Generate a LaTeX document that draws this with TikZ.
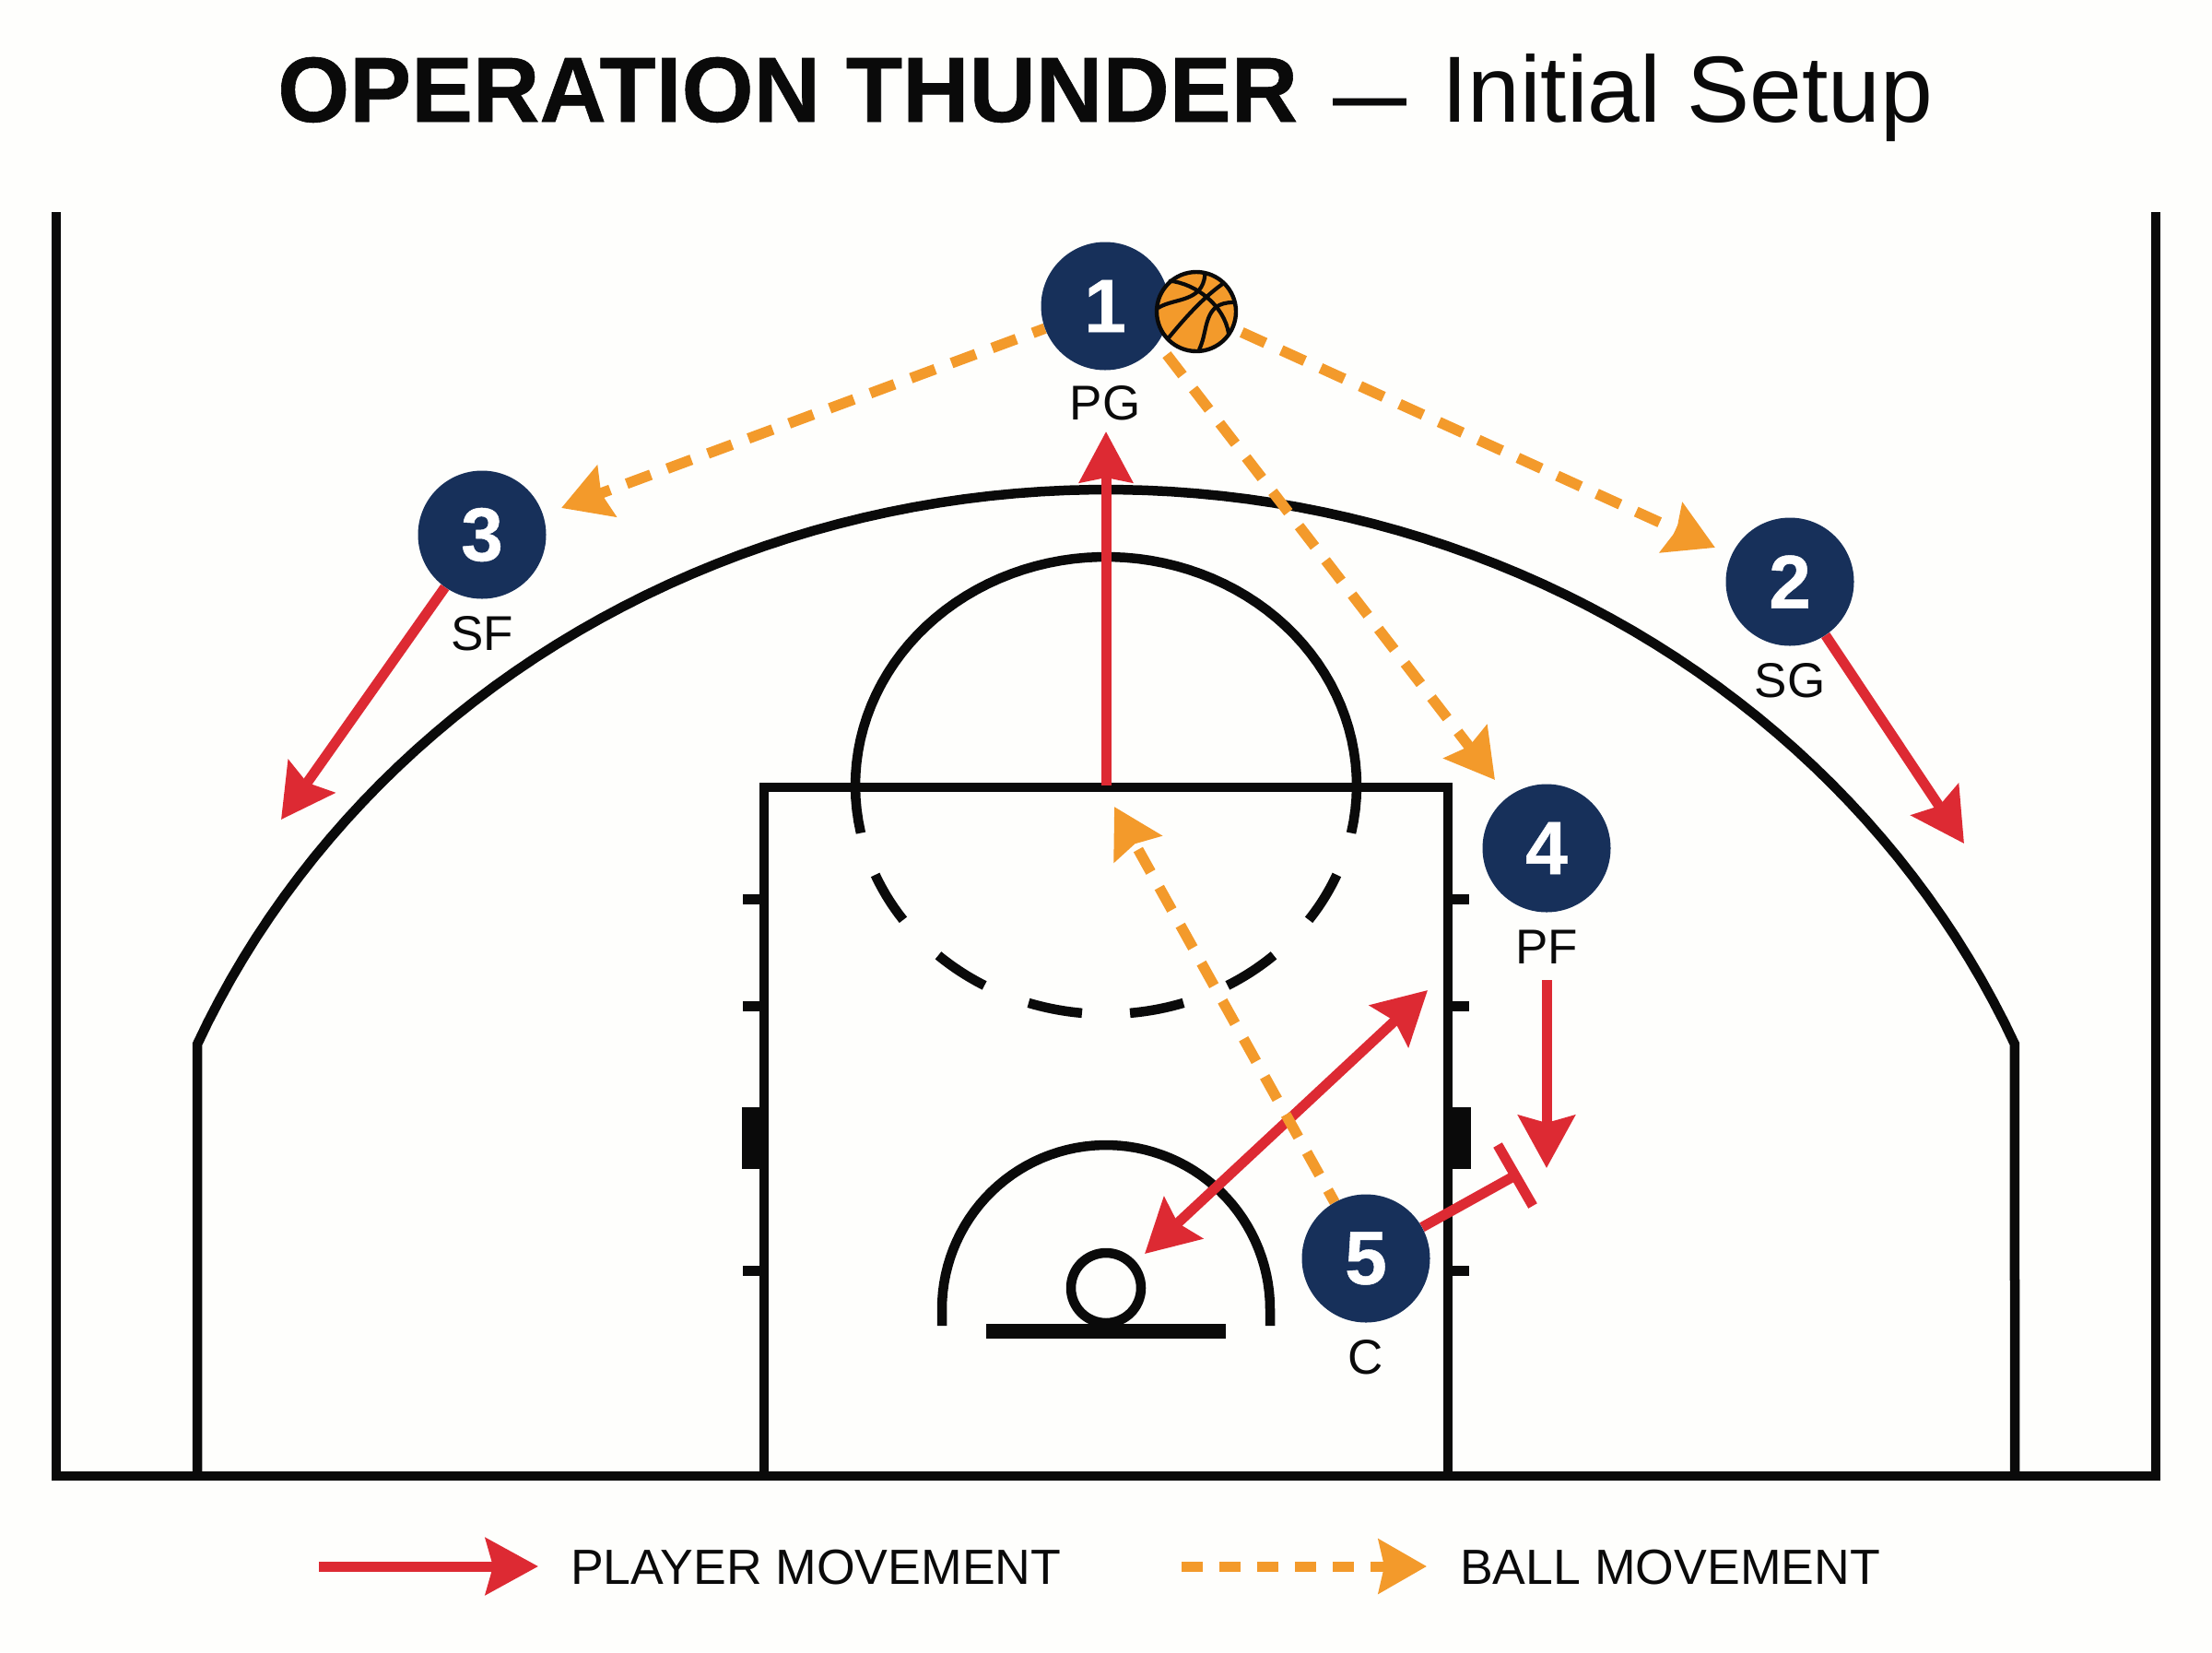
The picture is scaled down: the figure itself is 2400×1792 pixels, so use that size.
\documentclass[tikz,border=0pt]{standalone}
\usepackage{fontspec}
\setmainfont{Liberation Sans}
\newfontface\heavyface{Liberation Sans Bold}[FakeBold=0.6]
\usetikzlibrary{arrows.meta}
\definecolor{bgc}{HTML}{FEFEFC}
\definecolor{navy}{HTML}{17305A}
\definecolor{redc}{HTML}{DD2A33}
\definecolor{orac}{HTML}{F39A2B}
\definecolor{inkc}{HTML}{0A0A0A}
\newcommand{\fs}[1]{\fontsize{#1}{#1}\selectfont}
\pgfdeclarelayer{base}
\pgfdeclarelayer{links}
\pgfsetlayers{base,links,main}
\tikzset{
  court/.style={draw=inkc,line width=10.5pt,line join=miter},
  player/.style={circle,fill=navy,text=white,inner sep=0pt,minimum size=139pt,font=\fs{82}\heavyface},
  role/.style={text=inkc,inner sep=0pt,font=\fs{53}},
  legendtext/.style={text=inkc,inner sep=0pt,anchor=west,font=\fs{53.6}},
  redline/.style={draw=redc,line width=11pt},
  redmove/.style={redline,-{Stealth[length=57pt,width=61pt,inset=8pt]}},
  redboth/.style={redline,{Stealth[length=57pt,width=61pt,inset=8pt]}-{Stealth[length=57pt,width=61pt,inset=8pt]}},
  oramove/.style={draw=orac,line width=11.5pt,dash pattern=on 28pt off 19pt,-{Stealth[length=52pt,width=58pt,inset=6pt]}},
  seam/.style={draw=inkc,line width=4.2pt,line cap=round},
}
\begin{document}
\begin{tikzpicture}[x=1pt,y=-1pt]
\begin{pgfonlayer}{base}
\path[fill=bgc] (0,0) rectangle (2400,1792);
% court
\draw[court] (61,230) -- (61,1601) -- (2339,1601) -- (2339,230);
\draw[court] (214,1601) -- (214,1133) -- plot[domain=156.52:23.48,samples=90] ({1200+1075*cos(\x)},{1531-1000*sin(\x)}) -- (2186,1601);
\draw[court] (829,1601) -- (829,854) -- (1571,854) -- (1571,1601);
% lane marks
\foreach \yy in {975,1091,1378}{
  \fill[inkc] (806,\yy-5.5) rectangle (829,\yy+5.5);
  \fill[inkc] (1571,\yy-5.5) rectangle (1594,\yy+5.5);
}
\fill[inkc] (805,1201) rectangle (829,1268);
\fill[inkc] (1571,1201) rectangle (1596,1268);
% free throw circle
\draw[court] plot[domain=168:372,samples=70] ({1200+272*cos(\x)},{852+248*sin(\x)});
\foreach \a/\b in {157/144,132/119,108/95.5,84.5/72,61/48,36/23}{
  \draw[court] plot[domain=\a:\b,samples=14] ({1200+272*cos(\x)},{852+248*sin(\x)});
}
% restricted arc, hoop, backboard
\draw[court] (1022,1438) -- (1022,1420) -- plot[domain=180:0,samples=60] ({1200+178*cos(\x)},{1420-178*sin(\x)}) -- (1378,1438);
\draw[court] (1200,1397) circle[radius=38];
\fill[inkc] (1070,1436) rectangle (1330,1452);
\end{pgfonlayer}
\useasboundingbox (0,0) rectangle (2400,1792);
% title
\node[inner sep=0pt,text=inkc,anchor=base west] (title) at (301,132) {\fs{100.3}{\heavyface OPERATION THUNDER}\hspace{38pt}{\fs{80}\bfseries—}\hspace{38pt}\fs{102}Initial Setup};
% coordinates
\coordinate (tipPG) at (1200,468);
\coordinate (baseScreen) at (1200,852);
\coordinate (tipSF) at (305,889);
\coordinate (tipSG) at (2131,915);
\coordinate (startPF) at (1678,1063);
\coordinate (tipPF) at (1678,1267);
\coordinate (tipUp) at (1549,1074);
\coordinate (tipDn) at (1242,1360);
\coordinate (tBarA) at (1625,1242);
\coordinate (tBarB) at (1663,1308);
\coordinate (tEnd) at (1644,1275);
\coordinate (tipB3) at (609,551);
\coordinate (tipB2) at (1861,594);
\coordinate (tipB4) at (1622,846);
\coordinate (tipB5) at (1209,875);
% players
\node[player] (p1) at (1199,332) {1};
\node[player] (p2) at (1942,631) {2};
\node[player] (p3) at (523,580) {3};
\node[player] (p4) at (1678,920) {4};
\node[player] (p5) at (1482,1365) {5};
\node[role] (r1) at (1199,437) {PG};
\node[role] (r2) at (1942,738) {SG};
\node[role] (r3) at (523,687) {SF};
\node[role] (r4) at (1678,1027) {PF};
\node[role] (r5) at (1482,1472) {C};
% ball
\node[circle,fill=orac,draw=inkc,line width=4.4pt,inner sep=0pt,minimum size=86pt] (ball) at (1298,338) {};
\begin{scope}[shift={(1298,338)},x=0.3333pt,y=-0.3333pt]
\draw[seam] (-123,-13) .. controls (-70,-45) and (20,-30) .. (28,-120);
\draw[seam] (-85,-100) .. controls (0,-90) and (90,-20) .. (105,70);
\draw[seam] (-90,85) .. controls (-20,0) and (30,-50) .. (85,-90);
\draw[seam] (10,122) .. controls (40,60) and (20,-30) .. (120,-30);
\end{scope}
\begin{pgfonlayer}{links}
% player movement
\draw[redline,-{Stealth[length=55pt,width=57pt,inset=5pt]}] (baseScreen) -- (tipPG);
\draw[redmove] (p3) -- (tipSF);
\draw[redmove] (p2) -- (tipSG);
\draw[redmove] (startPF) -- (tipPF);
\draw[redboth] (tipDn) -- (tipUp);
\draw[redline] (p5) -- (tEnd);
\draw[redline] (tBarA) -- (tBarB);
% ball movement
\draw[oramove,dash phase=14pt] (p1) -- (tipB3);
\draw[oramove,dash phase=38pt] (ball) -- (tipB2);
\draw[oramove,dash phase=31pt] (p1.-35) -- (tipB4);
\draw[oramove,dash phase=13pt] (p5) -- (tipB5);
\end{pgfonlayer}
% legend
\coordinate (l1a) at (346,1699); \coordinate (l1b) at (584,1699);
\coordinate (l2a) at (1282,1699); \coordinate (l2b) at (1548,1699);
\draw[redmove] (l1a) -- (l1b);
\draw[oramove,line width=11pt,dash pattern=on 23pt off 18pt] (l2a) -- (l2b);
\node[legendtext] (lt1) at (619,1700) {PLAYER MOVEMENT};
\node[legendtext] (lt2) at (1584,1700) {BALL MOVEMENT};
\end{tikzpicture}
\end{document}
